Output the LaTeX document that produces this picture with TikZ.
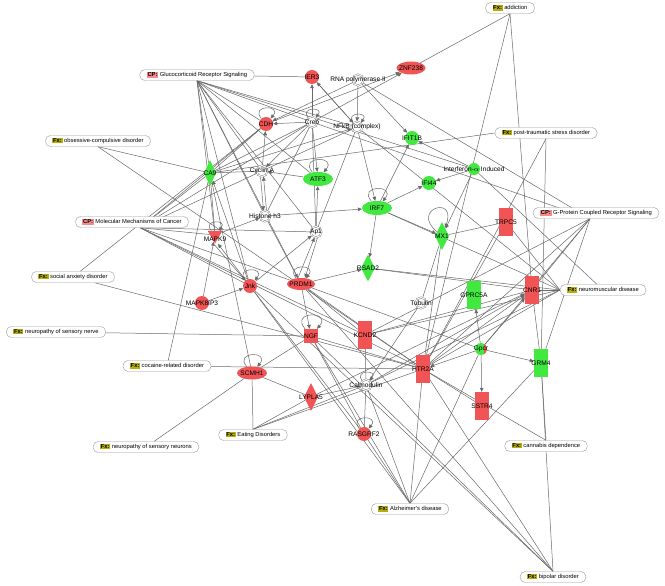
\documentclass[tikz,border=0pt]{standalone}
\usepackage{fontspec}
\setmainfont{Liberation Sans}
\usepackage{tikz}
\usetikzlibrary{arrows.meta,shapes.geometric}

\definecolor{redfill}{RGB}{240,84,84}
\definecolor{grnfill}{RGB}{64,232,64}
\definecolor{edgegray}{RGB}{105,105,105}
\definecolor{fxolive}{RGB}{182,174,12}
\definecolor{cppink}{RGB}{244,140,140}

\newcommand{\fxtag}{{\setlength{\fboxsep}{0.7pt}\colorbox{fxolive}{\textbf{Fx:}}}\ }
\newcommand{\cptag}{{\setlength{\fboxsep}{0.7pt}\colorbox{cppink}{\textbf{CP:}}}\ }

\pgfdeclarelayer{bg}
\pgfsetlayers{bg,main}

\tikzset{
  ln/.style={draw=edgegray, line width=0.5pt},
  arr/.style={ln, -{Triangle[length=4pt,width=3.6pt]}},
  selfloop/.style={arr, out=130, in=50, looseness=5, min distance=7pt},
  lbl/.style={font=\fontsize{6.6}{7}\selectfont, inner sep=0pt},
  lgd/.style={draw=gray!80, fill=white, rounded corners=5pt, minimum height=11pt,
    inner xsep=7pt, inner ysep=0.8pt, font=\fontsize{5.8}{6.5}\selectfont},
  gred/.style={circle, fill=redfill, minimum size=14pt, inner sep=0pt},
  ggrn/.style={circle, fill=grnfill, minimum size=14pt, inner sep=0pt},
  gredel/.style={ellipse, fill=redfill, minimum width=29pt, minimum height=13pt, inner sep=0pt},
  ggrnel/.style={ellipse, fill=grnfill, minimum width=30pt, minimum height=14pt, inner sep=0pt},
  rrect/.style={rectangle, fill=redfill, minimum width=14pt, minimum height=28pt, inner sep=0pt},
  grect/.style={rectangle, fill=grnfill, minimum width=14pt, minimum height=28pt, inner sep=0pt},
  rdia/.style={diamond, fill=redfill, minimum width=14pt, minimum height=28pt, inner sep=0pt},
  gdia/.style={diamond, fill=grnfill, minimum width=14pt, minimum height=27pt, inner sep=0pt},
  gcpx/.style={circle, draw=edgegray, double=white, double distance=1pt, line width=0.35pt,
    fill=white, minimum size=11pt, inner sep=0pt},
}

\begin{document}
\begin{tikzpicture}[x=1pt,y=-1pt]
  \begin{pgfonlayer}{bg}
    \fill[white] (0,0) rectangle (665,586);
  \end{pgfonlayer}
  \useasboundingbox (0,0) rectangle (665,586);

  % legend boxes
  \node[lgd] (addict) at (510,8) {\fxtag addiction};
  \node[lgd] (grs) at (197,75) {\cptag Glucocorticoid Receptor Signaling};
  \node[lgd] (ocd) at (98,141) {\fxtag obsessive-compulsive disorder};
  \node[lgd] (ptsd) at (546,133) {\fxtag post-traumatic stress disorder};
  \node[lgd] (mmc) at (132,222) {\cptag Molecular Mechanisms of Cancer};
  \node[lgd] (social) at (73,277) {\fxtag social anxiety disorder};
  \node[lgd] (nerve) at (56,332) {\fxtag neuropathy of sensory nerve};
  \node[lgd] (cocaine) at (167,366) {\fxtag cocaine-related disorder};
  \node[lgd] (gpcrs) at (596,213) {\cptag G-Protein Coupled Receptor Signaling};
  \node[lgd] (neuro) at (603,290) {\fxtag neuromuscular disease};
  \node[lgd] (neurons) at (146,447) {\fxtag neuropathy of sensory neurons};
  \node[lgd] (eating) at (253,435) {\fxtag Eating Disorders};
  \node[lgd] (canna) at (546,446) {\fxtag cannabis dependence};
  \node[lgd] (alz) at (410,509) {\fxtag Alzheimer's disease};
  \node[lgd] (bipolar) at (553,577) {\fxtag bipolar disorder};

  % molecules
  \node[gred, label={[lbl]center:IER3}] (ier3) at (312,77) {};
  \node[gredel, label={[lbl]center:ZNF238}] (znf) at (411,68) {};
  \node[gcpx, label={[lbl]center:RNA polymerase II}] (rnapol) at (358,80) {};
  \node[gred, label={[lbl]center:CDH}] (cdh) at (266,124) {};
  \node[gcpx, label={[lbl]center:Creb}] (creb) at (312,122) {};
  \node[gcpx, label={[lbl]center:NFkB (complex)}] (nfkb) at (357,127) {};
  \node[ggrn, label={[lbl]center:IFIT1B}] (ifit) at (412,138) {};
  \node[ggrn, minimum size=12pt, label={[lbl]center:Interferon-$\alpha$ Induced}] (ifna) at (474,169) {};
  \node[ggrn, label={[lbl]center:IFI44}] (ifi) at (429,183) {};
  \node[gdia, minimum width=12pt, minimum height=26pt, label={[lbl]center:CA9}] (ca9) at (210,173) {};
  \node[gcpx, label={[lbl]center:Cyclin A}] (cycA) at (262,171) {};
  \node[ggrnel, label={[lbl]center:ATF3}] (atf) at (318,179) {};
  \node[ggrnel, label={[lbl]center:IRF7}] (irf) at (377,208) {};
  \node[gcpx, label={[lbl]center:Histone h3}] (hist) at (265,216) {};
  \node[gcpx, label={[lbl]center:Ap1}] (ap1) at (316,232) {};
  \node[regular polygon, regular polygon sides=3, shape border rotate=180, fill=redfill,
    minimum size=17pt, inner sep=0pt] (mapk9) at (215,235) {};
  \node[lbl] (mapk9t) at (215,239) {MAPK9};
  \node[gred, label={[lbl]center:Jnk}] (jnk) at (250,286) {};
  \node[gredel, minimum width=28pt, minimum height=12pt, label={[lbl]center:PRDM1}] (prdm) at (301,284) {};
  \node[gred, label={[lbl]center:MAPK8IP3}] (mapkip) at (202,303) {};
  \node[rectangle, fill=redfill, minimum size=14pt, inner sep=0pt, label={[lbl]center:NGF}] (ngf) at (311,336) {};
  \node[gredel, minimum width=30pt, label={[lbl]center:SCMH1}] (scmh) at (252,373) {};
  \node[gdia, minimum height=28pt, label={[lbl]center:MX1}] (mx1) at (442,236) {};
  \node[rrect, label={[lbl]center:TRPC5}] (trpc) at (506,222) {};
  \node[gdia, label={[lbl]center:RSAD2}] (rsad) at (368,268) {};
  \node[grect, label={[lbl]center:GPRC5A}] (gprc) at (474,295) {};
  \node[rrect, label={[lbl]center:CNR1}] (cnr) at (532,290) {};
  \node[gcpx, label={[lbl]center:Tubulin}] (tub) at (421,303) {};
  \node[rrect, label={[lbl]center:KCND2}] (kcnd) at (365,335) {};
  \node[ggrn, minimum size=12pt,
    path picture={\fill[redfill] ([xshift=3pt]path picture bounding box.north) rectangle (path picture bounding box.south east);},
    label={[lbl]center:Gpcr}] (gpcr) at (481,349) {};
  \node[grect, label={[lbl]center:GRM4}] (grm) at (541,363) {};
  \node[rrect, label={[lbl]center:HTR2A}] (htr) at (423,369) {};
  \node[rrect, label={[lbl]center:SSTR4}] (sstr) at (482,406) {};
  \node[gcpx, label={[lbl]center:Calmodulin}] (calm) at (366,385) {};
  \node[gred, label={[lbl]center:RASGRF2}] (rasgrf) at (364,434) {};
  \node[rdia, label={[lbl]center:LYPLA5}] (lypla) at (311,397) {};

  \begin{pgfonlayer}{bg}
  % function and pathway links
  \foreach \t in {znf,htr,cnr} \draw[ln] (addict.south) -- (\t);
  \draw[ln] (grs) -- (ier3);
  \foreach \t in {creb,nfkb,ca9,cycA,hist,ap1,mapk9,jnk,prdm,atf,ifna,cdh} \draw[ln] (grs.south) -- (\t);
  \foreach \t in {ca9,htr} \draw[ln] (ocd.south) -- (\t);
  \foreach \t in {htr,grm} \draw[ln] (ptsd.south) -- (\t);
  \draw[ln] (ptsd.west) -- (ca9);
  \foreach \t in {cdh,creb,ca9,cycA,mapk9,ap1,prdm,jnk,htr,kcnd} \draw[ln] ([xshift=8pt]mmc.south) -- (\t);
  \foreach \t in {cdh,htr} \draw[ln] (social) -- (\t);
  \draw[ln] (nerve) -- (ngf);
  \draw[ln] (cocaine) -- (htr);
  \draw[ln] (cocaine) -- (ca9);
  \foreach \t in {cnr,gpcr,htr,grm,kcnd,rnapol,creb} \draw[ln] ([xshift=-6pt]gpcrs.south) -- (\t);
  \foreach \t in {cnr,irf,rsad,trpc,htr,kcnd,calm,nfkb} \draw[ln] (neuro.west) -- (\t);
  \draw[ln] (neurons) -- (scmh);
  \foreach \t in {scmh,lypla,htr,calm} \draw[ln] (eating.north) -- (\t);
  \foreach \t in {jnk,rasgrf,htr,gpcr,grm,ngf,calm} \draw[ln] (alz.north) -- (\t);
  \foreach \t in {jnk,prdm,htr,grm,ngf} \draw[ln] (bipolar.north) -- (\t);
  \foreach \t in {htr,grm} \draw[ln] (canna.north) -- (\t);

  % plain relations
  \draw[ln] (cdh) -- (ca9);
  \draw[ln] (creb) -- (ca9);
  \draw[ln] (creb) -- (hist);
  \draw[ln] (creb) -- (ap1);
  \draw[ln] (nfkb) -- (cycA);
  \draw[ln] (nfkb) -- (ap1);
  \draw[ln] (cycA) -- (ca9);
  \draw[ln] (ca9) -- (mapk9);
  \draw[ln] (ca9) -- (scmh);
  \draw[ln] (jnk) -- (rasgrf);
  \draw[ln] (prdm) -- (kcnd);
  \draw[ln] (prdm) -- (gpcr);
  \draw[ln] (prdm) -- (htr);
  \draw[ln] (ngf) -- (scmh);
  \draw[ln] (ngf) -- (htr);
  \draw[ln] (ngf) -- (rasgrf);
  \draw[ln] (scmh) -- (lypla);
  \draw[ln] (lypla) -- (calm);
  \draw[ln] (calm) -- (rasgrf);
  \draw[ln] (calm) -- (tub);
  \draw[ln] (calm) -- (kcnd);
  \draw[ln] (tub) -- (mx1);
  \draw[ln] (kcnd) -- (cnr);
  \draw[ln] (mx1) -- (trpc);
  \draw[ln] (mx1) -- (htr);
  \draw[ln] (trpc) -- (htr);
  \draw[ln] (rsad) -- (cnr);
  \draw[ln] (cnr) -- (grm);
  \draw[ln] (htr) -- (sstr);
  \draw[ln] (ifna) -- (neuro);

  % directed relations
  \draw[arr] (creb) -- (ier3);
  \draw[arr] (nfkb) -- (ier3);
  \draw[arr] (ier3) -- (nfkb);
  \draw[arr] (rnapol) -- (nfkb);
  \draw[arr] (rnapol) -- (ifit);
  \draw[arr] (cdh) -- (znf);
  \draw[arr] (creb) -- (znf);
  \draw[arr] (creb) -- (cdh);
  \draw[arr] (rnapol) -- (cdh);
  \draw[arr] (creb) -- (cycA);
  \draw[arr] (cycA) -- (cdh);
  \draw[arr] ([xshift=-1.5pt]cycA.south) -- ([xshift=-1.5pt]hist.north);
  \draw[arr] ([xshift=1.5pt]hist.north) -- ([xshift=1.5pt]cycA.south);
  \draw[arr] (atf) -- (cycA);
  \draw[arr] (ap1) -- (atf);
  \draw[arr] (creb) -- (atf);
  \draw[arr] (ca9) -- (nfkb);
  \draw[arr] (nfkb) -- (irf);
  \draw[arr] (irf) -- (ifit);
  \draw[arr] (irf) -- (ifi);
  \draw[arr] (ifna) -- (ifi);
  \draw[arr] (ifna) -- (ifit);
  \draw[arr] (hist) -- (irf);
  \draw[arr] (irf) -- (rsad);
  \draw[arr] (irf) -- (mx1);
  \draw[arr] (ifna) -- (mx1);
  \draw[arr] ([xshift=-3pt]prdm.north) -- ([xshift=-1.5pt]ap1.south);
  \draw[arr] ([xshift=1.5pt]ap1.south) -- ([xshift=4pt]prdm.north);
  \draw[arr] (jnk) -- (ap1);
  \draw[arr] (hist) -- (prdm);
  \draw[arr] (mapkip) -- (jnk);
  \draw[arr] (mapkip) -- (mapk9);
  \draw[arr] ([yshift=-1.5pt]mapk9.south) -- (jnk);
  \draw[arr] (jnk) -- ([xshift=3pt]mapk9.south);
  \draw[arr] (mapk9) -- (hist);
  \draw[arr] (prdm) -- (ngf);
  \draw[arr] (prdm) -- (rsad);
  \draw[arr] (jnk) -- (ca9);
  \draw[arr] (gpcr) -- (gprc);
  \draw[arr] (gpcr) -- (sstr);
  \draw[arr] (gpcr) -- (grm);
  \draw[arr] (gpcr) -- (htr);
  \draw[arr] (gpcr) -- (cnr);
  \draw[arr] (htr) -- (cnr);
  \draw[arr] (lypla) -- (cnr);
  \draw[arr] (calm) -- (cnr);

  % self loops
  \foreach \n in {cdh,creb,nfkb,atf,irf,mapk9,jnk,prdm,ngf,scmh,calm,rasgrf}
    \draw[selfloop] (\n) to (\n);
  \draw[arr] (mx1) to[out=140, in=70, looseness=10, min distance=22pt] (mx1);
  \end{pgfonlayer}
\end{tikzpicture}
\end{document}
